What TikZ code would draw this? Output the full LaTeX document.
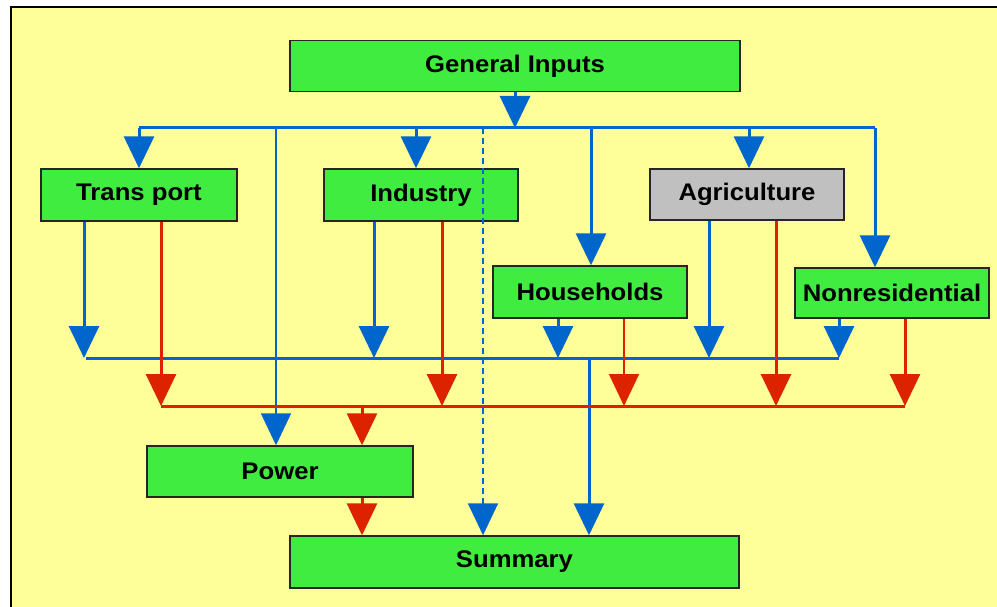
\documentclass[tikz,border=0pt]{standalone}
\usepackage{fontspec}
\setmainfont{Liberation Sans}[FakeStretch=1.07]
\usetikzlibrary{arrows.meta,calc}
\definecolor{bgyellow}{RGB}{255,255,153}
\definecolor{boxgreen}{RGB}{64,236,64}
\definecolor{boxgray}{RGB}{192,192,192}
\definecolor{flowblue}{RGB}{0,102,204}
\definecolor{flowred}{RGB}{221,34,0}
\tikzset{
  box/.style={draw=black!85, line width=1.4pt, fill=boxgreen, inner sep=0pt,
    font=\fontsize{24}{28}\selectfont\bfseries},
  tip/.style={-{Triangle[width=30pt,length=32pt]}},
  bline/.style={flowblue, line width=3pt},
  bthin/.style={flowblue, line width=1.8pt},
  rline/.style={flowred, line width=3pt},
  rthin/.style={flowred, line width=1.8pt},
  bdash/.style={flowblue, line width=1.6pt, dash pattern=on 6pt off 4pt},
}
\begin{document}
\begin{tikzpicture}[x=1pt,y=-1pt]
\useasboundingbox (0,0) rectangle (997,607);
\clip (0,0) rectangle (997,607);
\fill[bgyellow] (11,7) rectangle (1010,620);
\draw[line width=1.5pt] (11,620) -- (11,7) -- (1010,7);

% boxes
\node[box, minimum width=450pt, minimum height=51pt] (gi) at (515,66) {General Inputs};
\node[box, minimum width=196pt, minimum height=52pt] (tr) at (139,195) {Trans port};
\node[box, minimum width=194pt, minimum height=52pt] (ind) at (421,195) {Industry};
\node[box, fill=boxgray, minimum width=194pt, minimum height=51pt] (ag) at (747,194.5) {Agriculture};
\node[box, minimum width=194pt, minimum height=52pt] (hh) at (590,292) {Households};
\node[box, minimum width=194pt, minimum height=50pt] (nr) at (892,293) {Nonresidential};
\node[box, minimum width=266pt, minimum height=51pt] (pw) at (280,471.5) {Power};
\node[box, minimum width=449pt, minimum height=52pt] (sm) at (514.5,562) {Summary};

% top distribution bus
\coordinate (tL) at (139,128);
\coordinate (tR) at (875,128);
\coordinate (tGI) at (515,128);
\coordinate (tPw) at (276,128);
\coordinate (tInd) at (416,128);
\coordinate (tDash) at (483,128);
\coordinate (tDashEnd) at (483,498);
\coordinate (tHh) at (591,128);
\coordinate (tAg) at (749,128);
\draw[bline, line join=miter] (tL) -- (tR);
\draw[bline, tip] (gi.south -| tGI) -- (tGI);
\draw[bline, tip] (tL) -- (tL |- tr.north);
\draw[bthin, tip] (tPw) -- (tPw |- pw.north);
\draw[bline, tip] (tInd) -- (tInd |- ind.north);
\draw[bdash] (tDash) -- (tDashEnd);
\draw[bthin, tip] (tDashEnd) -- (tDash |- sm.north);
\draw[bline, tip] (tHh) -- (tHh |- hh.north);
\draw[bline, tip] (tAg) -- (tAg |- ag.north);
\draw[bline, tip] (tR) -- (tR |- nr.north);

% blue collection bus
\coordinate (bL) at (86,358);
\coordinate (bR) at (839,358);
\coordinate (bSm) at (589,358);
\coordinate (bTr) at (84,358);
\coordinate (bInd) at (374,358);
\coordinate (bHh) at (558,358);
\coordinate (bAg) at (709,358);
\draw[bline] (bL) -- (bR);
\draw[bline, tip] (tr.south -| bTr) -- (bTr);
\draw[bline, tip] (ind.south -| bInd) -- (bInd);
\draw[bline, tip] (hh.south -| bHh) -- (bHh);
\draw[bline, tip] (ag.south -| bAg) -- (bAg);
\draw[bline, tip] (nr.south -| bR) -- (bR);
\draw[bline, tip] (bSm) -- (bSm |- sm.north);

% red collection bus
\coordinate (rL) at (161,406);
\coordinate (rR) at (905,406);
\coordinate (rPw) at (362,406);
\coordinate (rInd) at (442,406);
\coordinate (rHh) at (624,406);
\coordinate (rAg) at (776,406);
\draw[rline] (rL) -- (rR);
\draw[rline, tip] (tr.south -| rL) -- (rL);
\draw[rline, tip] (ind.south -| rInd) -- (rInd);
\draw[rthin, tip] (hh.south -| rHh) -- (rHh);
\draw[rline, tip] (ag.south -| rAg) -- (rAg);
\draw[rline, tip] (nr.south -| rR) -- (rR);
\draw[rline, tip] (rPw) -- (rPw |- pw.north);
\draw[rline, tip] (pw.south -| rPw) -- (rPw |- sm.north);
\end{tikzpicture}
\end{document}
